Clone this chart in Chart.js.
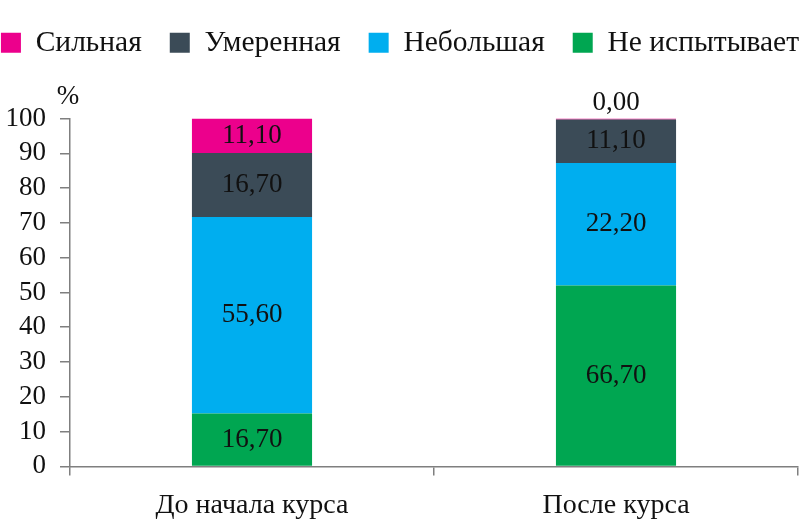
<!DOCTYPE html>
<html>
<head>
<meta charset="utf-8">
<script src="https://cdn.jsdelivr.net/npm/chart.js@4"></script>
<style>
  html, body { margin: 0; padding: 0; background: #fff; }
  #wrap { width: 800px; height: 528px; }
</style>
</head>
<body>
<div id="wrap"><canvas id="chart"></canvas></div>
<script>
const categories = ['До начала курса', 'После курса']

// bar heights as drawn in the picture (%), bottom to top
const noneHeights = [15.2, 52.0]
const slightHeights = [56.5, 35.2]
const moderateHeights = [18.4, 12.5]
const strongHeights = [9.9, 0.3]

// printed values on the segments
const noneLabels = [16.7, 66.7]
const slightLabels = [55.6, 22.2]
const moderateLabels = [16.7, 11.1]
const strongLabels = [11.1, 0.0]

const yTicks = [0, 10, 20, 30, 40, 50, 60, 70, 80, 90, 100]

const SERIF = '"Liberation Serif", "DejaVu Serif", serif'
const AXIS = '#7f7f7f'

const fmt = (v) => v.toFixed(2).replace('.', ',')

// segment value labels, drawn at the middle of each bar piece
const segmentLabels = {
  id: 'segmentLabels',
  afterDatasetsDraw(chart) {
    const ctx = chart.ctx
    ctx.save()
    ctx.font = '27px ' + SERIF
    ctx.fillStyle = '#111'
    ctx.textAlign = 'center'
    ctx.textBaseline = 'middle'
    chart.data.datasets.forEach((ds, i) => {
      chart.getDatasetMeta(i).data.forEach((bar, j) => {
        const v = ds.printed[j]
        const y = v === 0 ? bar.y - 16 : (bar.y + bar.base) / 2
        ctx.fillText(fmt(v), bar.x, y)
      })
    })
    // unit over the value axis
    ctx.fillText('%', chart.chartArea.left - 2, chart.chartArea.top - 22)
    ctx.restore()
  }
}

// extra room under the legend
const legendGap = {
  id: 'legendGap',
  beforeInit(chart) {
    const fit = chart.legend.fit
    chart.legend.fit = function () {
      fit.bind(chart.legend)()
      this.height += 51
    }
  }
}

const datasets = [
  {label: 'Не испытывает', data: noneHeights, printed: noneLabels, backgroundColor: '#00A651'},
  {label: 'Небольшая', data: slightHeights, printed: slightLabels, backgroundColor: '#00AEEF'},
  {label: 'Умеренная', data: moderateHeights, printed: moderateLabels, backgroundColor: '#3B4B57'},
  {label: 'Сильная', data: strongHeights, printed: strongLabels, backgroundColor: '#EC008C'}
]

new Chart(document.getElementById('chart'), {
  type: 'bar',
  data: {labels: categories, datasets: datasets},
  plugins: [legendGap, segmentLabels],
  options: {
    responsive: true,
    maintainAspectRatio: false,
    animation: false,
    // legend is wider than the plot, so the outer padding goes past the edges
    layout: {padding: {left: -30, right: -30, top: 0, bottom: -7}},
    datasets: {bar: {categoryPercentage: 1, barPercentage: 0.33, borderWidth: 0}},
    plugins: {
      legend: {
        reverse: true,
        labels: {
          boxWidth: 20, boxHeight: 20, padding: 28,
          color: '#111',
          font: {family: SERIF, size: 29.5}
        }
      },
      tooltip: {enabled: false}
    },
    scales: {
      x: {
        stacked: true,
        border: {color: AXIS, width: 1.5},
        grid: {offset: true, drawOnChartArea: false, color: AXIS, tickLength: 9, lineWidth: 1.5},
        ticks: {color: '#111', padding: 13, font: {family: SERIF, size: 28}}
      },
      y: {
        stacked: true,
        min: 0, max: 100,
        afterBuildTicks: (axis) => { axis.ticks = yTicks.map((v) => ({value: v})) },
        afterFit: (axis) => { axis.width = 100 },
        border: {color: AXIS, width: 1.5},
        grid: {drawOnChartArea: false, color: AXIS, tickLength: 10, lineWidth: 1.5},
        ticks: {color: '#111', padding: 14, autoSkip: false, font: {family: SERIF, size: 27}}
      },
      yRight: {
        type: 'linear',
        position: 'right',
        afterFit: (axis) => { axis.width = 32 },
        grid: {display: false},
        border: {display: false},
        ticks: {display: false}
      }
    }
  }
})
</script>
</body>
</html>
